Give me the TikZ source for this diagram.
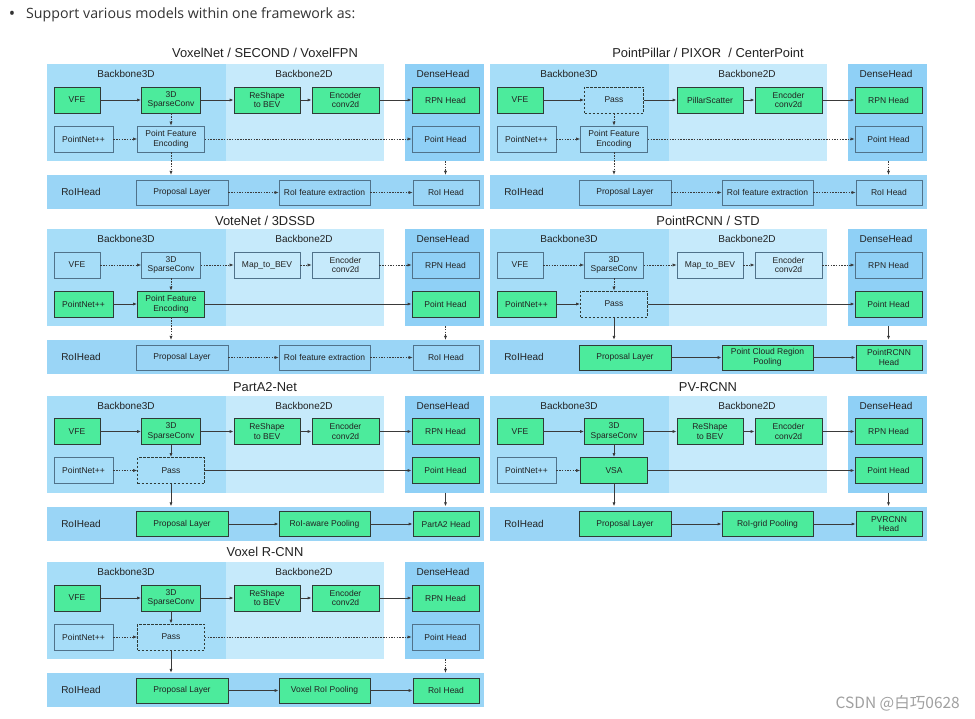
\documentclass[tikz,border=0pt]{standalone}
\usepackage{fontspec}
\setmainfont{Liberation Sans}
\newfontfamily\bulletfont{Open Sans}
\newfontfamily\cjkfont{Noto Sans CJK SC}
\usetikzlibrary{arrows.meta}
\definecolor{cA}{HTML}{A6DDF8}
\definecolor{cB}{HTML}{C6EAFB}
\definecolor{cC}{HTML}{8FD0F6}
\definecolor{cD}{HTML}{9AD5F6}
\definecolor{cG}{HTML}{4CEB9C}
\definecolor{cGB}{HTML}{2F3B36}
\definecolor{cPB}{HTML}{50728A}
\definecolor{cT}{HTML}{222222}
\definecolor{cArr}{HTML}{3A3A3A}
\definecolor{cBul}{HTML}{333333}
\definecolor{cWm}{HTML}{A0A0A0}
\tikzset{
 reg/.style={draw=none, inner sep=0, minimum height=97},
 r3d/.style={reg, fill=cA, minimum width=179},
 r2d/.style={reg, fill=cB, minimum width=158},
 rdh/.style={reg, fill=cC, minimum width=79},
 rband/.style={draw=none, inner sep=0, fill=cD, minimum width=437, minimum height=34},
 rlab/.style={font=\fontsize{10}{12}\selectfont, text=cT, inner sep=0},
 ptitle/.style={font=\fontsize{12.9}{15}\selectfont, text=cT, inner sep=0},
 bx/.style={draw=cPB, line width=0.8pt, minimum height=26, inner sep=1pt, align=center, font=\fontsize{8.5}{9.8}\selectfont, text=cT},
 gbx/.style={bx, fill=cG, draw=cGB},
 dbx/.style={bx, draw=cGB, dash pattern=on 2.5pt off 1.5pt},
 sa/.style={-{Latex[length=4pt,width=3.2pt]}, line width=0.8pt, draw=cArr},
 da/.style={-{Latex[length=4pt,width=3.2pt]}, line width=0.6pt, draw=cArr, dash pattern=on 1.5pt off 1.2pt},
}
\newcommand\skel[3]{%
 \node[r3d] (#1-b3d) at (136.5,112.5) {};
 \node[r2d] (#1-b2d) at (305,112.5) {};
 \node[rdh] (#1-dh) at (444.5,112.5) {};
 \node[rband] (#1-band) at (265.5,192) {};
 \node[rlab] (#1-l3d) at (126,74) {Backbone3D};
 \node[rlab] (#1-l2d) at (304,74) {Backbone2D};
 \node[rlab] (#1-ldh) at (443,74) {DenseHead};
 \node[rlab] (#1-lroi) at (81,192) {RoIHead};
 \node[ptitle] (#1-title) at (265,#3) {#2};
}
\begin{document}
\begin{tikzpicture}[x=1pt,y=-1pt]
\useasboundingbox (0,0) rectangle (975,719);
\fill[white] (0,0) rectangle (975,719);
\node[font=\bulletfont\fontsize{17}{18}\selectfont, text=cBul, inner sep=0] (bul) at (12,15) {•};
\node[font=\bulletfont\fontsize{14.2}{16}\selectfont, text=cBul, inner sep=0, anchor=west] (head) at (26,15) {Support various models within one framework as:};
\node[font=\cjkfont\fontsize{15.5}{17}\selectfont, text=cWm, inner sep=0, anchor=east] (wm) at (960,703) {CSDN @白巧0628};

% ---------- Panel A: VoxelNet ----------
\begin{scope}
\skel{a}{VoxelNet / SECOND / VoxelFPN}{53}
\node[gbx, minimum width=46] (a-vfe) at (77,100) {VFE};
\node[gbx, minimum width=59] (a-sc) at (171,100) {3D\\SparseConv};
\node[gbx, minimum width=66] (a-bev) at (267,100) {ReShape\\to BEV};
\node[gbx, minimum width=67] (a-enc) at (345.5,100) {Encoder\\conv2d};
\node[gbx, minimum width=67] (a-rpn) at (445.5,100) {RPN Head};
\node[bx, minimum width=59] (a-pn) at (83.5,139) {PointNet++};
\node[bx, minimum width=67] (a-pfe) at (171,139) {Point Feature\\Encoding};
\node[bx, minimum width=67] (a-ph) at (445.5,139) {Point Head};
\node[bx, minimum width=92, minimum height=25] (a-prop) at (182,192.5) {Proposal Layer};
\node[bx, minimum width=91, minimum height=25] (a-roif) at (324.5,192.5) {RoI feature extraction};
\node[bx, minimum width=66, minimum height=25] (a-roih) at (446,192.5) {RoI Head};
\draw[sa] (a-vfe) -- (a-sc);
\draw[sa] (a-sc) -- (a-bev);
\draw[sa] (a-bev) -- (a-enc);
\draw[sa] (a-enc) -- (a-rpn);
\draw[da] (a-sc) -- (a-pfe);
\draw[da] (a-pn) -- (a-pfe);
\draw[da] (a-pfe) -- (a-ph);
\draw[da] (a-pfe.south) -- (a-pfe.south |- a-band.north);
\draw[da] (a-ph.south |- a-dh.south) -- (a-ph.south |- a-band.north);
\draw[da] (a-prop) -- (a-roif);
\draw[da] (a-roif) -- (a-roih);
\end{scope}

% ---------- Panel B: PointPillar ----------
\begin{scope}[shift={(443,0)}]
\skel{b}{PointPillar / PIXOR\ \ / CenterPoint}{53}
\node[gbx, minimum width=46] (b-vfe) at (77,100) {VFE};
\node[dbx, minimum width=59] (b-sc) at (171,100) {Pass};
\node[gbx, minimum width=66] (b-bev) at (267,100) {PillarScatter};
\node[gbx, minimum width=67] (b-enc) at (345.5,100) {Encoder\\conv2d};
\node[gbx, minimum width=67] (b-rpn) at (445.5,100) {RPN Head};
\node[bx, minimum width=59] (b-pn) at (83.5,139) {PointNet++};
\node[bx, minimum width=67] (b-pfe) at (171,139) {Point Feature\\Encoding};
\node[bx, minimum width=67] (b-ph) at (445.5,139) {Point Head};
\node[bx, minimum width=92, minimum height=25] (b-prop) at (182,192.5) {Proposal Layer};
\node[bx, minimum width=91, minimum height=25] (b-roif) at (324.5,192.5) {RoI feature extraction};
\node[bx, minimum width=66, minimum height=25] (b-roih) at (446,192.5) {RoI Head};
\draw[sa] (b-vfe) -- (b-sc);
\draw[sa] (b-sc) -- (b-bev);
\draw[sa] (b-bev) -- (b-enc);
\draw[sa] (b-enc) -- (b-rpn);
\draw[da] (b-sc) -- (b-pfe);
\draw[da] (b-pn) -- (b-pfe);
\draw[da] (b-pfe) -- (b-ph);
\draw[da] (b-pfe.south) -- (b-pfe.south |- b-band.north);
\draw[da] (b-ph.south |- b-dh.south) -- (b-ph.south |- b-band.north);
\draw[da] (b-prop) -- (b-roif);
\draw[da] (b-roif) -- (b-roih);
\end{scope}

% ---------- Panel C: VoteNet ----------
\begin{scope}[shift={(0,165)}]
\skel{c}{VoteNet / 3DSSD}{56}
\node[bx, minimum width=46] (c-vfe) at (77,100) {VFE};
\node[bx, minimum width=59] (c-sc) at (171,100) {3D\\SparseConv};
\node[bx, minimum width=66] (c-bev) at (267,100) {Map\_to\_BEV};
\node[bx, minimum width=67] (c-enc) at (345.5,100) {Encoder\\conv2d};
\node[bx, minimum width=67] (c-rpn) at (445.5,100) {RPN Head};
\node[gbx, minimum width=59] (c-pn) at (83.5,139) {PointNet++};
\node[gbx, minimum width=67] (c-pfe) at (171,139) {Point Feature\\Encoding};
\node[gbx, minimum width=67] (c-ph) at (445.5,139) {Point Head};
\node[bx, minimum width=92, minimum height=25] (c-prop) at (182,192.5) {Proposal Layer};
\node[bx, minimum width=91, minimum height=25] (c-roif) at (324.5,192.5) {RoI feature extraction};
\node[bx, minimum width=66, minimum height=25] (c-roih) at (446,192.5) {RoI Head};
\draw[da] (c-vfe) -- (c-sc);
\draw[da] (c-sc) -- (c-bev);
\draw[da] (c-bev) -- (c-enc);
\draw[da] (c-enc) -- (c-rpn);
\draw[da] (c-sc) -- (c-pfe);
\draw[sa] (c-pn) -- (c-pfe);
\draw[sa] (c-pfe) -- (c-ph);
\draw[da] (c-pfe.south) -- (c-pfe.south |- c-band.north);
\draw[da] (c-ph.south |- c-dh.south) -- (c-ph.south |- c-band.north);
\draw[da] (c-prop) -- (c-roif);
\draw[da] (c-roif) -- (c-roih);
\end{scope}

% ---------- Panel D: PointRCNN ----------
\begin{scope}[shift={(443,165)}]
\skel{d}{PointRCNN / STD}{56}
\node[bx, minimum width=46] (d-vfe) at (77,100) {VFE};
\node[bx, minimum width=59] (d-sc) at (171,100) {3D\\SparseConv};
\node[bx, minimum width=66] (d-bev) at (267,100) {Map\_to\_BEV};
\node[bx, minimum width=67] (d-enc) at (345.5,100) {Encoder\\conv2d};
\node[bx, minimum width=67] (d-rpn) at (445.5,100) {RPN Head};
\node[gbx, minimum width=59] (d-pn) at (83.5,139) {PointNet++};
\node[dbx, minimum width=67] (d-pfe) at (171,139) {Pass};
\node[gbx, minimum width=67] (d-ph) at (445.5,139) {Point Head};
\node[gbx, minimum width=92, minimum height=25] (d-prop) at (182,192.5) {Proposal Layer};
\node[gbx, minimum width=91, minimum height=25] (d-roif) at (324.5,192.5) {Point Cloud Region\\Pooling};
\node[gbx, minimum width=66, minimum height=25] (d-roih) at (446,192.5) {PointRCNN\\Head};
\draw[da] (d-vfe) -- (d-sc);
\draw[da] (d-sc) -- (d-bev);
\draw[da] (d-bev) -- (d-enc);
\draw[da] (d-enc) -- (d-rpn);
\draw[da] (d-sc) -- (d-pfe);
\draw[sa] (d-pn) -- (d-pfe);
\draw[sa] (d-pfe) -- (d-ph);
\draw[sa] (d-pfe.south) -- (d-pfe.south |- d-band.north);
\draw[sa] (d-ph.south |- d-dh.south) -- (d-ph.south |- d-band.north);
\draw[sa] (d-prop) -- (d-roif);
\draw[sa] (d-roif) -- (d-roih);
\end{scope}

% ---------- Panel E: PartA2 ----------
\begin{scope}[shift={(0,331.5)}]
\skel{e}{PartA2-Net}{55.5}
\node[gbx, minimum width=46] (e-vfe) at (77,100) {VFE};
\node[gbx, minimum width=59] (e-sc) at (171,100) {3D\\SparseConv};
\node[gbx, minimum width=66] (e-bev) at (267,100) {ReShape\\to BEV};
\node[gbx, minimum width=67] (e-enc) at (345.5,100) {Encoder\\conv2d};
\node[gbx, minimum width=67] (e-rpn) at (445.5,100) {RPN Head};
\node[bx, minimum width=59] (e-pn) at (83.5,139) {PointNet++};
\node[dbx, minimum width=67] (e-pfe) at (171,139) {Pass};
\node[gbx, minimum width=67] (e-ph) at (445.5,139) {Point Head};
\node[gbx, minimum width=92, minimum height=25] (e-prop) at (182,192.5) {Proposal Layer};
\node[gbx, minimum width=91, minimum height=25] (e-roif) at (324.5,192.5) {RoI-aware Pooling};
\node[gbx, minimum width=66, minimum height=25] (e-roih) at (446,192.5) {PartA2 Head};
\draw[sa] (e-vfe) -- (e-sc);
\draw[sa] (e-sc) -- (e-bev);
\draw[sa] (e-bev) -- (e-enc);
\draw[sa] (e-enc) -- (e-rpn);
\draw[sa] (e-sc) -- (e-pfe);
\draw[da] (e-pn) -- (e-pfe);
\draw[sa] (e-pfe) -- (e-ph);
\draw[sa] (e-pfe.south) -- (e-pfe.south |- e-band.north);
\draw[sa] (e-ph.south |- e-dh.south) -- (e-ph.south |- e-band.north);
\draw[sa] (e-prop) -- (e-roif);
\draw[sa] (e-roif) -- (e-roih);
\end{scope}

% ---------- Panel F: PV-RCNN ----------
\begin{scope}[shift={(443,331.5)}]
\skel{f}{PV-RCNN}{55.5}
\node[gbx, minimum width=46] (f-vfe) at (77,100) {VFE};
\node[gbx, minimum width=59] (f-sc) at (171,100) {3D\\SparseConv};
\node[gbx, minimum width=66] (f-bev) at (267,100) {ReShape\\to BEV};
\node[gbx, minimum width=67] (f-enc) at (345.5,100) {Encoder\\conv2d};
\node[gbx, minimum width=67] (f-rpn) at (445.5,100) {RPN Head};
\node[bx, minimum width=59] (f-pn) at (83.5,139) {PointNet++};
\node[gbx, minimum width=67] (f-pfe) at (171,139) {VSA};
\node[gbx, minimum width=67] (f-ph) at (445.5,139) {Point Head};
\node[gbx, minimum width=92, minimum height=25] (f-prop) at (182,192.5) {Proposal Layer};
\node[gbx, minimum width=91, minimum height=25] (f-roif) at (324.5,192.5) {RoI-grid Pooling};
\node[gbx, minimum width=66, minimum height=25] (f-roih) at (446,192.5) {PVRCNN\\Head};
\draw[sa] (f-vfe) -- (f-sc);
\draw[sa] (f-sc) -- (f-bev);
\draw[sa] (f-bev) -- (f-enc);
\draw[sa] (f-enc) -- (f-rpn);
\draw[sa] (f-sc) -- (f-pfe);
\draw[da] (f-pn) -- (f-pfe);
\draw[sa] (f-pfe) -- (f-ph);
\draw[sa] (f-pfe.south) -- (f-pfe.south |- f-band.north);
\draw[sa] (f-ph.south |- f-dh.south) -- (f-ph.south |- f-band.north);
\draw[sa] (f-prop) -- (f-roif);
\draw[sa] (f-roif) -- (f-roih);
\end{scope}

% ---------- Panel G: Voxel R-CNN ----------
\begin{scope}[shift={(0,498)}]
\skel{g}{Voxel R-CNN}{54}
\node[gbx, minimum width=46] (g-vfe) at (77,100) {VFE};
\node[gbx, minimum width=59] (g-sc) at (171,100) {3D\\SparseConv};
\node[gbx, minimum width=66] (g-bev) at (267,100) {ReShape\\to BEV};
\node[gbx, minimum width=67] (g-enc) at (345.5,100) {Encoder\\conv2d};
\node[gbx, minimum width=67] (g-rpn) at (445.5,100) {RPN Head};
\node[bx, minimum width=59] (g-pn) at (83.5,139) {PointNet++};
\node[dbx, minimum width=67] (g-pfe) at (171,139) {Pass};
\node[bx, minimum width=67] (g-ph) at (445.5,139) {Point Head};
\node[gbx, minimum width=92, minimum height=25] (g-prop) at (182,192.5) {Proposal Layer};
\node[gbx, minimum width=91, minimum height=25] (g-roif) at (324.5,192.5) {Voxel RoI Pooling};
\node[gbx, minimum width=66, minimum height=25] (g-roih) at (446,192.5) {RoI Head};
\draw[sa] (g-vfe) -- (g-sc);
\draw[sa] (g-sc) -- (g-bev);
\draw[sa] (g-bev) -- (g-enc);
\draw[sa] (g-enc) -- (g-rpn);
\draw[sa] (g-sc) -- (g-pfe);
\draw[da] (g-pn) -- (g-pfe);
\draw[da] (g-pfe) -- (g-ph);
\draw[sa] (g-pfe.south) -- (g-pfe.south |- g-band.north);
\draw[da] (g-ph.south |- g-dh.south) -- (g-ph.south |- g-band.north);
\draw[sa] (g-prop) -- (g-roif);
\draw[sa] (g-roif) -- (g-roih);
\end{scope}
\end{tikzpicture}
\end{document}
